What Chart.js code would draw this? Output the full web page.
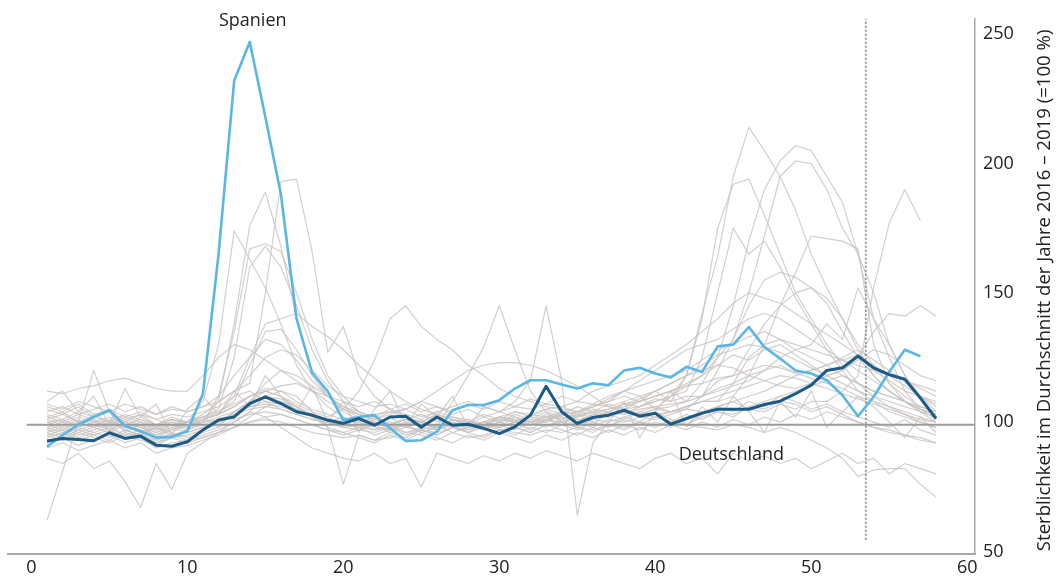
<!DOCTYPE html>
<html>
<head>
<meta charset="utf-8">
<script src="https://cdn.jsdelivr.net/npm/chart.js@4/dist/chart.umd.min.js"></script>
<style>
  html, body { margin: 0; padding: 0; background: #ffffff; }
  #wrap { width: 1063px; height: 581px; position: relative; }
</style>
</head>
<body>
<div id="wrap"><canvas id="c"></canvas></div>
<script>
// ---- Data ----
const weeks = [1,2,3,4,5,6,7,8,9,10,11,12,13,14,15,16,17,18,19,20,21,22,23,24,25,26,27,28,29,30,
  31,32,33,34,35,36,37,38,39,40,41,42,43,44,45,46,47,48,49,50,51,52,53,54,55,56,57,58];

const xTicks = [0, 10, 20, 30, 40, 50, 60];
const yTicks = [50, 100, 150, 200, 250];

const deutschland = [
  92.7, 93.7, 93.3, 92.8, 95.9, 93.7, 94.6, 91.1, 90.7, 92.4,
  97, 100.8, 102, 107.2, 109.8, 107.2, 104, 102.7, 100.8, 99.5,
  101.4, 98.8, 102, 102.3, 98, 102, 98.8, 99.2, 97.6, 95.6,
  98.2, 102.7, 113.9, 104, 99.5, 101.8, 102.7, 104.6, 102.3, 103.4,
  99.2, 101.4, 103.5, 105, 105, 105, 106.8, 108.1, 111, 114.3,
  120, 121, 125.6, 121, 118.4, 116.6, 109.3, 101.4
];

const spanien = [
  90.5, 95, 99, 102, 104.6, 98.5, 96.5, 94, 94.3, 96.5,
  111, 165, 232, 247, 218, 188, 140, 119, 112, 100.8,
  102, 102.7, 97.6, 92.7, 93, 96.3, 104.6, 106.6, 106.6, 108.5,
  113, 116.2, 116.2, 114.6, 113, 115, 114.3, 120, 121, 118.8,
  117.3, 121.4, 119.4, 129.3, 130, 136.8, 129, 124.6, 120, 118.8,
  116.2, 110.4, 102.3, 109.8, 119.4, 128, 125.5
];

const andereLaender = [
  [102,104,100,98,101,97,99,96,98,100, 103,108,112,115,150,193,194,166,127,137,
   118,110,105,102,100,98,101,99,97,100, 98,101,100,103,101,99,104,106,108,112,
   115,118,120,122,121,118,116,114,113,115, 118,120,125,135,142,141,145,141],
  [98,96,99,101,97,100,98,95,97,99, 100,108,138,176,189,168,140,120,110,105,
   102,100,98,99,101,97,100,98,99,101, 100,103,102,104,103,106,108,112,110,105,
   110,118,142,164,195,214,205,195,182,165, 152,140,128,118,112,108,104,100],
  [105,103,106,102,104,100,103,101,99,100, 108,130,174,163,152,138,122,112,106,102,
   100,98,97,99,96,98,100,97,99,98, 100,99,101,100,102,104,103,105,106,108,
   110,114,118,125,132,145,155,158,156,152, 148,140,130,122,115,110,106,104],
  [96,98,95,97,99,94,96,98,95,97, 100,110,135,167,169,166,150,132,118,110,
   104,100,98,96,97,95,98,96,99,97, 98,96,99,100,98,101,100,102,104,106,
   104,106,108,108,115,125,130,132,128,125, 122,118,115,112,110,108,105,103],
  [100,101,99,103,100,98,102,99,101,100, 102,105,125,160,168,160,145,128,116,108,
   104,102,99,101,100,98,101,99,100,102, 101,99,100,103,101,102,104,103,106,108,
   110,112,125,150,175,165,170,160,148,138, 128,120,112,108,104,102,100,98],
  [101,99,102,100,98,101,99,97,100,98, 101,103,110,125,138,140,142,137,133,128,
   122,117,112,108,105,103,101,100,99,101, 100,102,101,103,102,104,105,107,108,110,
   112,114,115,117,118,120,122,121,119,120, 122,124,126,122,118,114,110,107],
  [97,99,96,98,100,97,95,98,96,99, 101,104,108,122,135,136,128,118,110,104,
   101,99,100,98,97,99,96,98,100,99, 97,100,98,101,99,102,103,101,104,103,
   104,105,110,116,118,128,138,145,150,152, 146,135,125,118,112,108,105,103],
  [95,97,94,96,98,95,97,93,95,96, 98,100,104,108,110,109,106,103,101,99,
   98,97,99,96,98,97,99,98,100,99, 101,100,102,103,104,106,108,110,108,110,
   112,108,115,125,145,170,190,201,207,205, 195,185,165,140,125,112,105,101],
  [100,98,101,99,97,100,98,96,99,97, 99,101,103,106,108,107,105,102,100,98,
   99,97,98,100,99,101,98,100,99,98, 100,99,101,103,102,105,104,107,106,109,
   108,110,110,120,132,150,172,195,201,200, 190,175,165,150,130,118,110,104],
  [103,101,104,102,100,103,101,99,102,100, 101,103,106,110,113,112,108,105,103,101,
   100,102,99,101,103,100,102,101,99,102, 104,103,105,106,104,107,106,108,110,112,
   108,118,140,175,192,194,180,165,150,140, 130,122,115,110,106,103,100,98],
  [94,96,93,95,97,94,96,92,94,95, 97,99,103,107,110,108,105,102,100,98,
   97,96,98,95,97,96,98,97,99,98, 100,99,101,102,100,103,102,104,103,105,
   104,106,108,108,110,118,130,145,158,172, 171,170,167,130,115,108,104,102],
  [106,104,107,103,105,102,104,101,103,102, 104,106,110,112,108,105,103,101,100,102,
   99,101,103,105,102,104,106,108,106,104, 102,100,101,99,100,98,101,100,102,101,
   103,105,104,106,108,105,104,107,105,108, 108,112,118,152,177,190,178,null],
  [99,101,98,100,102,99,101,98,100,99, 101,103,106,110,112,110,107,104,102,105,
   112,124,140,145,137,132,128,122,118,113, 110,108,106,105,104,103,102,104,103,105,
   106,108,110,113,115,118,120,122,119,117, 115,113,110,108,106,104,102,100],
  [97,95,98,96,94,97,95,93,96,94, 96,98,101,103,104,103,101,99,97,96,
   98,95,97,99,96,98,108,118,129,145, 128,112,104,100,98,96,99,97,100,98,
   101,99,102,104,103,106,105,108,107,104, 106,103,100,98,96,95,93,92],
  [108,112,104,110,99,113,102,107,95,105, 110,103,112,106,118,110,104,114,100,108,
   96,105,112,99,107,102,110,98,106,104, 108,116,145,116,64,92,100,108,94,104,
   112,98,106,100,110,104,96,108,102,112, 98,104,110,106,100,94,102,96],
  [102,100,103,101,99,102,100,98,101,99, 100,102,104,106,107,106,104,102,101,100,
   102,103,104,105,108,112,116,120,122,123, 123,122,120,117,114,110,106,104,103,102,
   104,106,108,110,112,114,116,118,117,115, 113,111,109,107,105,103,101,100],
  [98,100,97,99,101,98,100,97,99,98, 100,101,103,105,106,105,103,101,100,99,
   98,100,99,101,100,98,101,99,100,102, 101,100,102,101,103,102,104,103,105,106,
   107,108,110,112,114,116,120,125,128,130, 138,132,152,140,130,118,110,106],
  [92,94,91,93,95,92,94,90,92,93, 94,96,98,100,101,100,98,96,95,94,
   95,93,94,96,95,93,96,94,95,97, 96,95,97,96,98,97,99,98,100,99,
   100,99,98,97,99,98,96,98,96,93, 90,86,79,81.5,82,82,76,71],
  [62,81,100,120,104,96,99,94,97,100, 102,98,104,108,112,110,106,102,99,101,
   97,99,102,98,100,103,99,101,98,102, 100,97,101,99,103,100,98,102,100,104,
   101,99,103,106,104,108,106,110,108,105, 107,104,102,100,98,101,97,95],
  [112,111,113,114,116,117,115,113,112,112, 118,125,130,128,124,120,116,112,110,108,
   106,108,105,107,104,106,103,105,102,104, 106,105,107,106,108,107,110,112,114,116,
   118,120,124,128,130,133,135,132,130,128, 126,124,122,120,118,116,114,112],
  [86,84,88,82,85,77,67,84,74,88, 92,96,100,104,102,98,94,90,88,86,
   85,88,84,86,75,88,86,84,87,85, 88,86,89,87,85,88,86,84,82,86,
   88,84,86,80,88,85,87,84,86,82, 85,88,84,86,80,84,82,80],
  [96,94,97,95,93,96,94,92,95,93, 95,97,100,104,110,112,110,104,98,76,
   95,93,96,94,97,95,98,96,94,97, 95,98,96,99,97,100,98,101,99,102,
   100,103,101,104,102,106,108,110,112,114, 116,118,115,112,110,108,105,103],
  [90,92,89,91,93,90,92,88,90,91, 93,95,98,102,106,108,106,102,98,96,
   94,92,95,93,96,94,92,95,93,96, 94,92,95,93,96,94,97,95,98,96,
   99,97,100,98,101,99,102,100,103,101, 104,102,100,98,97,95,94,92],
  [104,106,103,105,107,104,106,103,105,104, 106,108,112,118,125,128,126,120,114,110,
   108,106,107,105,108,106,104,107,105,108, 106,109,107,110,108,112,114,116,118,122,
   126,130,135,140,146,150,148,146,142,138, 134,130,126,120,116,112,110,108],
  [99,97,100,98,96,99,97,95,98,96, 98,100,102,108,115,120,118,114,110,106,
   103,101,99,102,100,98,101,99,97,100, 102,100,103,101,104,106,109,112,116,120,
   124,128,130,132,136,140,142,140,136,132, 128,124,120,116,112,108,106,104],
  [101,103,100,102,104,101,103,99,101,100, 102,104,107,110,112,114,115,112,108,105,
   103,101,104,102,100,103,101,99,102,100, 103,101,104,102,100,103,105,107,109,112,
   115,118,122,126,128,130,129,127,124,121, 118,120,124,128,126,122,118,116],
  [95,93,96,94,92,95,93,91,94,92, 94,96,98,100,102,103,101,99,97,95,
   97,99,96,98,100,97,99,96,98,100, 98,96,99,97,95,98,96,99,97,100,
   98,101,103,106,108,110,112,115,118,120, 122,125,128,124,120,116,113,110],
  [107,105,108,106,104,107,105,103,106,104, 106,110,118,125,132,130,124,116,110,106,
   104,102,105,103,101,104,102,100,103,101, 104,102,105,103,106,104,107,105,108,110,
   112,115,118,122,126,124,128,130,126,122, 118,115,112,110,108,106,104,102]
];

// reference marks
const basisWert = 99;            // 100 % line as drawn
const basisVon = -0.3, basisBis = 60.5;
const jahreswechsel = 53.5;      // dotted line between 2020 and 2021
const jahreswechselVon = 54.5, jahreswechselBis = 256;

const yTitle = 'Sterblichkeit im Durchschnitt der Jahre 2016 – 2019 (=100 %)';
const labelSpanien = 'Spanien';
const labelDeutschland = 'Deutschland';
const deutschlandLabelPos = { x: 41.5, y: 87.3 };

// ---- build datasets ----
const toPoints = vals => vals.map((v, i) => ({ x: weeks[i], y: v }));
const FONT = '"Open Sans", "DejaVu Sans", sans-serif';

const datasets = [];
datasets.push({
  label: labelDeutschland, data: toPoints(deutschland),
  borderColor: '#1b5b87', borderWidth: 3, order: 0
});
datasets.push({
  label: labelSpanien, data: toPoints(spanien),
  borderColor: '#5ab6e3', borderWidth: 2.6, order: 1
});
datasets.push({
  label: 'basis', data: [{ x: basisVon, y: basisWert }, { x: basisBis, y: basisWert }],
  borderColor: '#9c9c9c', borderWidth: 2, order: 2
});
datasets.push({
  label: 'jahreswechsel', data: [{ x: jahreswechsel, y: jahreswechselVon }, { x: jahreswechsel, y: jahreswechselBis }],
  borderColor: '#8f8f8f', borderWidth: 1.8, borderDash: [2, 2], order: 2
});
andereLaender.forEach((vals, k) => {
  datasets.push({
    label: 'land' + k, data: toPoints(vals),
    borderColor: 'rgba(200,195,193,0.8)', borderWidth: 1.2, order: 3
  });
});

const annotations = {
  id: 'annotations',
  afterDatasetsDraw(chart) {
    const { ctx, scales: { x, y } } = chart;
    ctx.save();
    ctx.fillStyle = '#222222';
    ctx.font = '18px ' + FONT;
    // Spanien label above the peak
    let iMax = 0;
    spanien.forEach((v, i) => { if (v > spanien[iMax]) iMax = i; });
    ctx.textAlign = 'center';
    ctx.textBaseline = 'middle';
    ctx.fillText(labelSpanien, x.getPixelForValue(weeks[iMax]) + 3, y.getPixelForValue(spanien[iMax]) - 21);
    // Deutschland label
    ctx.textAlign = 'left';
    ctx.fillText(labelDeutschland, x.getPixelForValue(deutschlandLabelPos.x), y.getPixelForValue(deutschlandLabelPos.y));
    // y-axis title (reads bottom to top)
    ctx.font = '18.6px ' + FONT;
    ctx.translate(1045, (y.top + y.bottom) / 2 + 4);
    ctx.rotate(-Math.PI / 2);
    ctx.textAlign = 'center';
    ctx.textBaseline = 'middle';
    ctx.fillText(yTitle, 0, 0);
    ctx.restore();
  }
};

new Chart(document.getElementById('c'), {
  type: 'line',
  data: { datasets },
  options: {
    responsive: true,
    maintainAspectRatio: false,
    animation: false,
    parsing: true,
    elements: {
      point: { radius: 0, hoverRadius: 0 },
      line: { tension: 0, borderJoinStyle: 'round', borderCapStyle: 'butt', fill: false }
    },
    layout: { padding: { left: 8, top: 17, right: 0, bottom: 0 } },
    plugins: { legend: { display: false }, tooltip: { enabled: false } },
    scales: {
      x: {
        type: 'linear', position: 'bottom', min: -1.5, max: 60.5,
        afterBuildTicks: s => { s.ticks = xTicks.map(v => ({ value: v })); },
        afterFit: s => { s.height = 27; },
        grid: { display: false, drawTicks: false },
        border: { display: true, color: '#a8a8a8', width: 2 },
        ticks: { color: '#222222', font: { family: FONT, size: 18 }, padding: 3, maxRotation: 0 }
      },
      y: {
        type: 'linear', position: 'right', min: 49, max: 256,
        afterBuildTicks: s => { s.ticks = yTicks.map(v => ({ value: v })); },
        afterFit: s => { s.width = 88; },
        grid: { display: false, drawTicks: false },
        border: { display: true, color: '#a8a8a8', width: 1.5 },
        ticks: { color: '#222222', font: { family: FONT, size: 18 }, padding: 8 }
      }
    }
  },
  plugins: [annotations]
});
</script>
</body>
</html>
